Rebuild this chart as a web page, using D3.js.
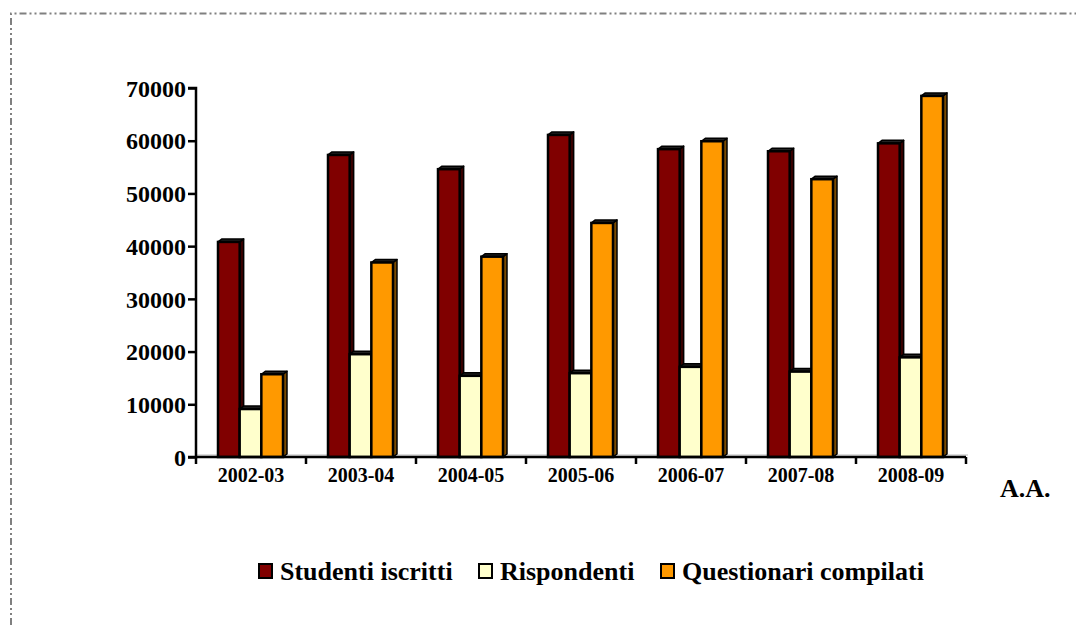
<!DOCTYPE html>
<html>
<head>
<meta charset="utf-8">
<script src="https://cdn.jsdelivr.net/npm/d3@7"></script>
<style>
	body { margin: 0; background: #fff; }
	svg { display: block; }
	svg text { font-family: "Liberation Serif", "Times New Roman", Tinos, "Nimbus Roman", "DejaVu Serif", serif !important; font-weight: bold; }
</style>
</head>
<body>
<svg id="chart" width="1076" height="625"></svg>
<script>

// data
const years = ["2002-03", "2003-04", "2004-05", "2005-06", "2006-07", "2007-08", "2008-09"];
const seriesNames = ["Studenti iscritti", "Rispondenti", "Questionari compilati"];
const iscritti = [40800, 57300, 54600, 61100, 58400, 58000, 59500];
const rispondenti = [9100, 19500, 15400, 15900, 17100, 16200, 18900];
const questionari = [15700, 36900, 38000, 44400, 59900, 52700, 68500];
const yTicks = [0, 10000, 20000, 30000, 40000, 50000, 60000, 70000];

const colors = ["#800000", "#ffffcc", "#ff9900"];
const sideColors = ["#3a0000", "#8a8a60", "#7a4a00"];

function whenDocumentLoaded(action) {
	if (document.readyState === "loading") {
		document.addEventListener("DOMContentLoaded", action);
	} else {
		action();
	}
}

whenDocumentLoaded(() => {
	const svg = d3.select('#chart');
	const allSeries = [iscritti, rispondenti, questionari];

	// dash-dot frame (only top and left edges show in the picture)
	svg.append("path")
		.attr("d", "M11,625 L11,13.5 L1076,13.5")
		.attr("fill", "none")
		.attr("stroke", "#808080")
		.attr("stroke-width", 2)
		.attr("stroke-dasharray", "7 3 2 3 2 3");

	const x = d3.scaleBand().domain(years).range([196, 966]).padding(0);
	const xs = d3.scaleBand().domain(seriesNames).range([22, 87]).padding(0);
	const y = d3.scaleLinear().domain([0, 70000]).range([457, 88]);

	const dx = 4, dy = 3;

	// floor line
	svg.append("line")
		.attr("x1", 196).attr("x2", 968)
		.attr("y1", y(0) - 2).attr("y2", y(0) - 2)
		.attr("stroke", "#d0d0d0").attr("stroke-width", 1.5);

	const bars = [];
	years.forEach((yr, i) => {
		seriesNames.forEach((s, j) => {
			bars.push({year: yr, series: s, j: j, value: allSeries[j][i]});
		});
	});

	const g = svg.selectAll("g.bar").data(bars).enter().append("g").attr("class", "bar");

	g.each(function(d) {
		const sel = d3.select(this);
		const x0 = x(d.year) + xs(d.series);
		const w = xs.bandwidth();
		const top = y(d.value), bot = y(0);
		// side face
		sel.append("path")
			.attr("d", `M${x0 + w},${top} L${x0 + w + dx},${top - dy} L${x0 + w + dx},${bot - dy} L${x0 + w},${bot} Z`)
			.attr("fill", sideColors[d.j]).attr("stroke", "#000").attr("stroke-width", 1.5)
			.attr("stroke-linejoin", "round");
		// top face
		sel.append("path")
			.attr("d", `M${x0},${top} L${x0 + dx},${top - dy} L${x0 + w + dx},${top - dy} L${x0 + w},${top} Z`)
			.attr("fill", "#222").attr("stroke", "#000").attr("stroke-width", 1.5)
			.attr("stroke-linejoin", "round");
		// front face
		sel.append("rect")
			.attr("x", x0).attr("y", top)
			.attr("width", w).attr("height", bot - top)
			.attr("fill", colors[d.j]).attr("stroke", "#000").attr("stroke-width", 2.5);
	});

	// y axis
	const yAxis = svg.append("g")
		.attr("transform", "translate(196,0)")
		.call(d3.axisLeft(y).tickValues(yTicks).tickSize(8).tickPadding(2).tickFormat(d3.format("d")));
	yAxis.select(".domain").attr("stroke", "#000").attr("stroke-width", 2.5).attr("d", "M-8,88H0V457H-8");
	yAxis.selectAll(".tick line").attr("stroke", "#000").attr("stroke-width", 2.5);
	yAxis.selectAll(".tick text")
		.attr("font-size", 24)
		.attr("fill", "#000").attr("dy", "0.34em");

	// x axis
	const xAxis = svg.append("g")
		.attr("transform", `translate(0,${y(0)})`)
		.call(d3.axisBottom(x).tickSize(0).tickPadding(0));
	xAxis.select(".domain").attr("stroke", "#000").attr("stroke-width", 2.5).attr("d", "M196,0H966");
	xAxis.selectAll(".tick text")
		.attr("font-size", 20)
		.attr("fill", "#000").attr("y", 25).attr("dy", 0);
	// boundary ticks between categories
	xAxis.selectAll("line.sep")
		.data(years.concat(["end"]))
		.enter().append("line")
		.attr("class", "sep")
		.attr("x1", (d, i) => i < years.length ? x(d) : x(years[years.length - 1]) + x.bandwidth())
		.attr("x2", (d, i) => i < years.length ? x(d) : x(years[years.length - 1]) + x.bandwidth())
		.attr("y1", 0).attr("y2", 7)
		.attr("stroke", "#000").attr("stroke-width", 2.5);

	svg.append("text")
		.attr("x", 1000).attr("y", 497)
		.attr("font-size", 26).attr("fill", "#000")
		.text("A.A.");

	// legend
	const legendX = [258, 478, 660];
	const legend = svg.selectAll("g.legend").data(seriesNames).enter().append("g")
		.attr("class", "legend")
		.attr("transform", (d, i) => `translate(${legendX[i]},563)`);
	legend.append("rect")
		.attr("x", 1).attr("y", 1).attr("width", 13).attr("height", 14)
		.attr("fill", (d, i) => colors[i]).attr("stroke", "#000").attr("stroke-width", 2);
	legend.append("text")
		.attr("x", 22).attr("y", 17)
		.attr("font-size", 26).attr("fill", "#000")
		.text(d => d);
});
</script>
</body>
</html>
